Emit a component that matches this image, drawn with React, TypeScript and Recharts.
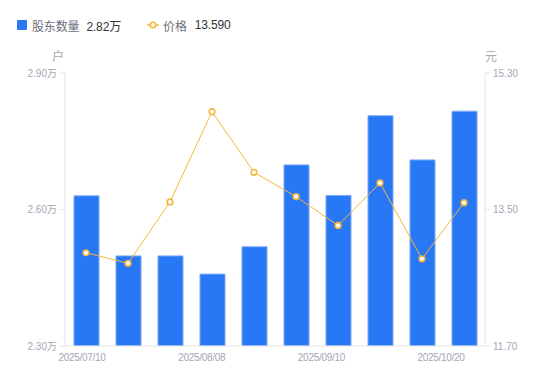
import React from 'react';
import { ComposedChart, Bar, Line, XAxis, YAxis } from 'recharts';

const dates = ['2025/07/10', '2025/07/18', '2025/07/31', '2025/08/08', '2025/08/20', '2025/08/29', '2025/09/10', '2025/09/19', '2025/09/30', '2025/10/20'];
const holders = [2.63, 2.498, 2.498, 2.458, 2.518, 2.698, 2.631, 2.806, 2.709, 2.816];
const prices = [12.93, 12.79, 13.6, 14.79, 13.99, 13.67, 13.29, 13.85, 12.85, 13.59];
const leftTicks = [2.3, 2.6, 2.9];
const rightTicks = [11.7, 13.5, 15.3];

const data = dates.map((d, i) => ({ date: d, holders: holders[i], price: prices[i] }));

const FONT = '"Liberation Sans", Arial, "Noto Sans CJK SC", sans-serif';
const TICK_COLOR = '#a3a6b4';
const AXIS_COLOR = '#e3e3e6';
const BAR_COLOR = '#2878f5';
const LINE_COLOR = '#f6b73c';

const XTick = (props: any) => {
  const { x, y, payload } = props;
  const off = -4 - payload.index * 2.1;
  return (
    <text x={x + off} y={y} dy="0.71em" textAnchor="middle" fill={TICK_COLOR} fontSize={10} letterSpacing={-0.3} fontFamily={FONT}>
      {payload.value}
    </text>
  );
};

const UnitLabel = (side: 'left' | 'right', text: string) => (props: any) => {
  const vb = props.viewBox;
  const x = side === 'left' ? vb.x + vb.width - 7 : vb.x + 6;
  return (
    <text x={x} y={vb.y - 16} dy="0.355em" textAnchor="middle" fill={TICK_COLOR} fontSize={12} fontFamily={FONT}>
      {text}
    </text>
  );
};

export default function App() {
  const last = data.length - 1;
  return (
    <div style={{ position: 'absolute', left: 0, top: 0, width: 550, height: 381, background: '#fff', fontFamily: FONT }}>
      <div style={{ position: 'absolute', left: 16, top: 16, height: 18, display: 'flex', alignItems: 'center', fontSize: 12, letterSpacing: -0.15, whiteSpace: 'nowrap' }}>
        <span style={{ display: 'inline-block', width: 10, height: 10, background: BAR_COLOR, borderRadius: 1, marginLeft: 1 }} />
        <span style={{ color: '#6b6e7a', marginLeft: 5 }}>股东数量</span>
        <span style={{ color: '#333', marginLeft: 7 }}>{holders[last].toFixed(2)}万</span>
        <svg width={12} height={10} style={{ marginLeft: 26 }}>
          <line x1={0} y1={5} x2={12} y2={5} stroke={LINE_COLOR} strokeWidth={1.5} />
          <circle cx={6} cy={5} r={2.8} fill="#fff" stroke={LINE_COLOR} strokeWidth={1.6} />
        </svg>
        <span style={{ color: '#6b6e7a', marginLeft: 4 }}>价格</span>
        <span style={{ color: '#333', marginLeft: 8 }}>{prices[last].toFixed(3)}</span>
      </div>
      <ComposedChart width={550} height={381} data={data} margin={{ top: 73, right: 0, bottom: 5, left: 0 }}>
        <XAxis
          dataKey="date"
          interval={2}
          tick={<XTick />}
          tickLine={false}
          tickSize={0}
          tickMargin={8}
          height={30}
          axisLine={{ stroke: AXIS_COLOR }}
        />
        <YAxis
          yAxisId="left"
          orientation="left"
          width={65}
          domain={[2.3, 2.9]}
          ticks={leftTicks}
          tickFormatter={(v: number) => v.toFixed(2) + '万'}
          tick={{ fill: TICK_COLOR, fontSize: 10, fontFamily: FONT }}
          tickLine={{ stroke: AXIS_COLOR }}
          tickSize={5}
          tickMargin={3}
          axisLine={{ stroke: AXIS_COLOR }}
          label={UnitLabel('left', '户')}
          allowDataOverflow
        />
        <YAxis
          yAxisId="right"
          orientation="right"
          width={65}
          domain={[11.7, 15.3]}
          ticks={rightTicks}
          tickFormatter={(v: number) => v.toFixed(2)}
          tick={{ fill: TICK_COLOR, fontSize: 10, fontFamily: FONT }}
          tickLine={{ stroke: AXIS_COLOR }}
          tickSize={5}
          tickMargin={3}
          axisLine={{ stroke: AXIS_COLOR }}
          label={UnitLabel('right', '元')}
          allowDataOverflow
        />
        <Bar yAxisId="left" dataKey="holders" barSize={25} fill={BAR_COLOR} stroke="#7aaaf6" strokeWidth={1} isAnimationActive={false} />
        <Line
          yAxisId="right"
          dataKey="price"
          type="linear"
          stroke={LINE_COLOR}
          strokeWidth={1}
          dot={{ r: 2.8, fill: '#fff', stroke: LINE_COLOR, strokeWidth: 1.6 }}
          activeDot={false}
          isAnimationActive={false}
        />
      </ComposedChart>
    </div>
  );
}
